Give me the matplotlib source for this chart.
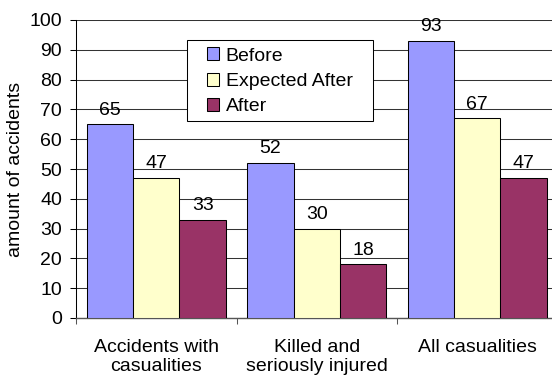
import matplotlib.pyplot as plt
from matplotlib.patches import Rectangle
import numpy as np

plt.rcParams['font.family'] = ['Liberation Sans', 'DejaVu Sans']

# Accident counts per category
categories = ['Accidents with\ncasualities', 'Killed and\nseriously injured', 'All casualities']
before = [65, 52, 93]
expected_after = [47, 30, 67]
after = [33, 18, 47]

series = [('Before', before, '#9999FF'),
          ('Expected After', expected_after, '#FFFFCC'),
          ('After', after, '#993366')]

fig = plt.figure(figsize=(5.52, 3.81), dpi=100)
ax = fig.add_axes([76 / 552, 63 / 381, 481.5 / 552, 298 / 381])

x = np.arange(len(categories))
width = 0.289
fs = 14

for i, (name, vals, color) in enumerate(series):
    bars = ax.bar(x + (i - 1) * width, vals, width, color=color,
                  edgecolor='black', linewidth=0.75, label=name, zorder=3)
    ax.bar_label(bars, labels=[str(v) for v in vals], padding=4, fontsize=fs, zorder=4)

ax.set_xlim(-0.5, 2.5)
ax.set_ylim(0, 100)
ax.set_yticks(range(0, 101, 10))
ax.yaxis.grid(True, color='#333333', linewidth=0.75, zorder=0)
ax.tick_params(axis='y', labelsize=fs, length=4, width=0.75, pad=6)

# category labels sit between the boundary ticks
ax.set_xticks([-0.5, 0.5, 1.5, 2.5])
ax.set_xticklabels([])
ax.set_xticks(x, minor=True)
ax.set_xticklabels(categories, minor=True, fontsize=fs, linespacing=1.15)
ax.tick_params(axis='x', which='major', length=4, width=0.75, color='#555555')
ax.tick_params(axis='x', which='minor', length=0, pad=15)

for s in ['top', 'right']:
    ax.spines[s].set_visible(False)
ax.spines['left'].set_linewidth(0.75)
ax.spines['bottom'].set_color('#555555')
ax.spines['bottom'].set_linewidth(1.0)

ax.set_ylabel('amount of accidents', fontsize=fs, labelpad=4)

leg = ax.legend(loc='upper left', bbox_to_anchor=(205 / 552, 1 - 45.5 / 381),
                bbox_transform=fig.transFigure, frameon=False, fontsize=fs,
                handlelength=0.63, handleheight=0.63, handletextpad=0.33,
                labelspacing=0.42, borderpad=0.1, borderaxespad=0)
leg.set_zorder(6)

# legend frame, wider at the sides than at top and bottom
fig.canvas.draw()
bb = leg.get_window_extent()
frame = Rectangle((bb.x0 - 18, bb.y0 - 4), bb.width + 36, bb.height + 9,
                  transform=None, facecolor='white', edgecolor='black',
                  linewidth=0.75, zorder=5)
fig.add_artist(frame)
leg.remove()
fig.add_artist(leg)

fig.savefig('out.png', dpi=100)
